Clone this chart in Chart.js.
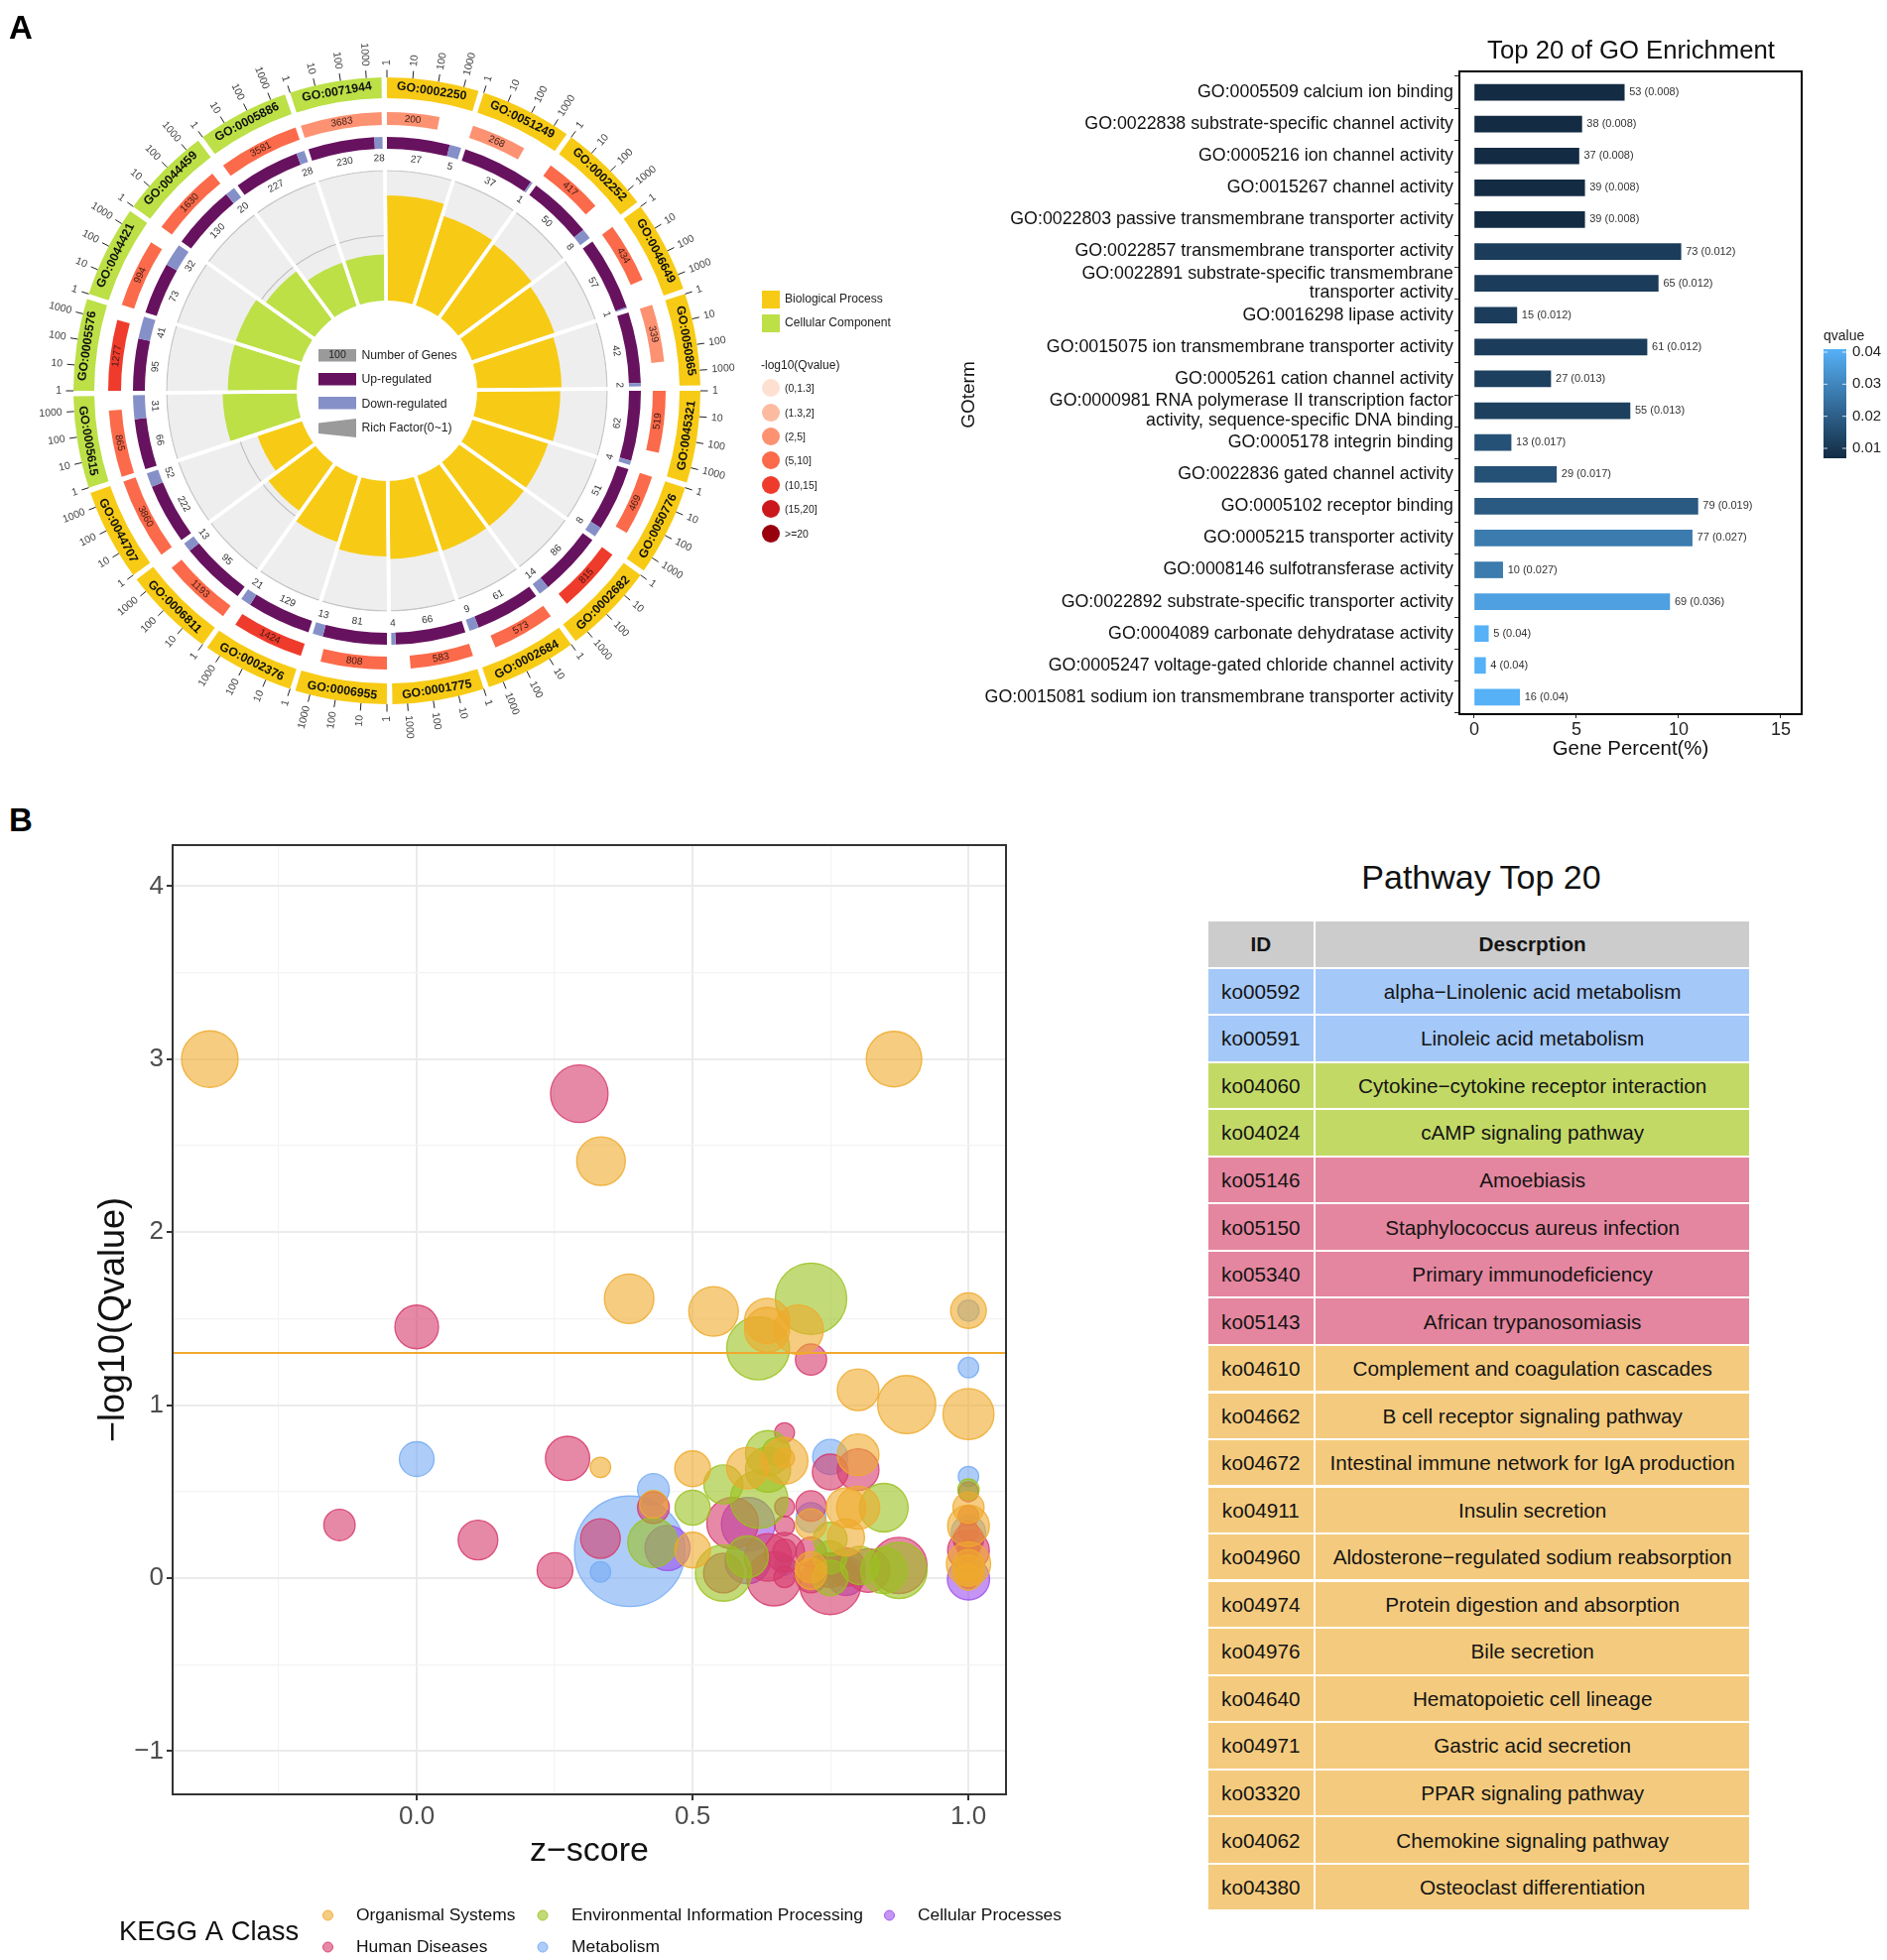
<!DOCTYPE html>
<html><head><meta charset="utf-8">
<script src="https://cdn.jsdelivr.net/npm/chart.js@4/dist/chart.umd.min.js"></script>
<style>
html,body{margin:0;padding:0;background:#fff;}
#page{position:relative;width:1902px;height:1976px;overflow:hidden;font-family:"Liberation Sans",Arial,sans-serif;color:#111;}
canvas{position:absolute;}
.t{position:absolute;white-space:nowrap;line-height:1;}
.cell{position:absolute;display:flex;align-items:center;justify-content:center;font-size:20.7px;color:#141414;box-sizing:border-box;padding-top:1px;}
</style></head>
<body><div id="page">
<canvas id="polarBack" width="460" height="460" style="left:160px;top:164px"></canvas>
<canvas id="polarFront" width="460" height="460" style="left:160px;top:164px"></canvas>
<canvas id="ring" width="780" height="788" style="left:0;top:0"></canvas>
<canvas id="bars" width="942" height="750" style="left:960px;top:30px"></canvas>
<canvas id="bubble" width="1060" height="1181" style="left:60px;top:795px"></canvas>
</div>
<script>
// ---------- Panel A, circular GO plot (clockwise from 12 o'clock) ----------
const goIds = ["GO:0002250","GO:0051249","GO:0002252","GO:0046649","GO:0050865","GO:0045321","GO:0050776","GO:0002682","GO:0002684","GO:0001775","GO:0006955","GO:0002376","GO:0006811","GO:0044707","GO:0005615","GO:0005576","GO:0044421","GO:0044459","GO:0005886","GO:0071944"];
const goClass = ["BP","BP","BP","BP","BP","BP","BP","BP","BP","BP","BP","BP","BP","BP","CC","CC","CC","CC","CC","CC"];
const goCounts = [200,268,417,434,339,519,469,815,573,583,808,1424,1193,3860,865,1277,994,1630,3581,3683];
const goQBin = [2,2,3,3,2,3,3,4,3,3,3,4,3,3,3,4,3,3,3,2];
const goUp = [27,37,50,57,42,62,51,86,61,66,81,129,95,222,66,95,73,130,227,230];
const goDown = [5,1,8,1,2,4,8,14,9,4,13,21,13,52,31,41,32,20,28,28];
const richFactor = [0.81,0.72,0.70,0.67,0.65,0.64,0.61,0.61,0.61,0.60,0.58,0.53,0.45,0.36,0.57,0.53,0.53,0.46,0.35,0.355];
const countTicks = [1,10,100,1000];
const qLegend = ["(0,1.3]","(1.3,2]","(2,5]","(5,10]","(10,15]","(15,20]",">=20"];
const qColors = ["#FEE0D2","#FCBBA1","#FC9272","#FB6A4A","#EF3B2C","#CB181D","#99000D"];
const classColors = {BP:"#F7CB15",CC:"#BCE046"};

// ---------- Panel A, bar chart ----------
const barLabels = ["GO:0005509 calcium ion binding","GO:0022838 substrate-specific channel activity","GO:0005216 ion channel activity","GO:0015267 channel activity","GO:0022803 passive transmembrane transporter activity","GO:0022857 transmembrane transporter activity",["GO:0022891 substrate-specific transmembrane","transporter activity"],"GO:0016298 lipase activity","GO:0015075 ion transmembrane transporter activity","GO:0005261 cation channel activity",["GO:0000981 RNA polymerase II transcription factor","activity, sequence-specific DNA binding"],"GO:0005178 integrin binding","GO:0022836 gated channel activity","GO:0005102 receptor binding","GO:0005215 transporter activity","GO:0008146 sulfotransferase activity","GO:0022892 substrate-specific transporter activity","GO:0004089 carbonate dehydratase activity","GO:0005247 voltage-gated chloride channel activity","GO:0015081 sodium ion transmembrane transporter activity"];
const genePercent = [7.34,5.26,5.12,5.40,5.40,10.11,9.00,2.08,8.45,3.74,7.62,1.80,4.02,10.94,10.66,1.39,9.56,0.69,0.55,2.22];
const geneCount = [53,38,37,39,39,73,65,15,61,27,55,13,29,79,77,10,69,5,4,16];
const qValue = ["0.008","0.008","0.008","0.008","0.008","0.012","0.012","0.012","0.012","0.013","0.013","0.017","0.017","0.019","0.027","0.027","0.036","0.04","0.04","0.04"];
const percentTicks = [0,5,10,15];
const qBarTicks = [0.01,0.02,0.03,0.04];

// ---------- Panel B, bubble chart: [z-score, -log10(Qvalue), size] ----------
const organismal = [[-0.375,3.0,28.5],[0.865,3.0,28],[0.334,2.41,24.5],[0.385,1.615,25],[0.538,1.542,25],[0.635,1.487,22.7],[0.635,1.435,22.7],[0.692,1.435,25],[1,1.546,18],[0.80,1.088,21],[0.888,1.003,29.3],[1,0.948,25.7],[0.333,0.64,10.3],[0.5,0.632,18],[0.5,0.162,18],[0.5995,0.636,21],[0.6667,0.678,23.5],[0.6667,0.694,10],[0.80,0.713,21],[0.778,0.407,20],[0.80,0.407,21.7],[0.778,0.235,18.7],[0.7146,0.311,15.7],[0.7146,0.063,15.7],[0.7146,0.025,15.7],[0.429,0.426,14],[1,0.407,15.7],[1,0.302,21],[1,0.082,22.3],[1,0.073,16],[1,0.044,15.7],[1,0.006,13.3]];
const environmental = [[0.7146,1.615,36],[0.6187,1.328,31.7],[0.4275,0.205,25],[0.5,0.407,17.7],[0.5558,0.541,19.7],[0.6367,0.7225,22.7],[0.6367,0.627,22.7],[0.652,0.732,14],[0.8466,0.407,24.5],[0.6205,0.4547,29],[0.7494,0.225,17],[0.7494,0.12,16.7],[0.5558,0.029,28.3],[0.5995,0.124,21],[0.7494,0.001,18],[0.803,0.073,19.3],[0.8466,0.044,23.3],[0.874,0.044,28.3],[1,0.512,10.7]];
const humanDiseases = [[0.2946,2.80,29],[0,1.452,22],[0.7146,1.263,15.7],[0.2734,0.692,22.3],[-0.14,0.307,15.8],[0.111,0.22,20],[0.2506,0.044,18],[0.333,0.229,20],[0.429,0.407,16],[0.6667,0.841,10],[0.7494,0.6135,18],[0.80,0.627,21],[0.5725,0.317,26],[0.6667,0.411,10],[0.6667,0.302,10],[0.7146,0.417,15.3],[0.5558,0.029,20],[0.6367,0.12,24],[0.6475,-0.004,27.3],[0.6667,0.159,11.7],[0.6667,0.15,20],[0.6667,0.006,10.7],[0.7146,0.149,15.3],[0.7146,0.005,15.7],[0.7494,-0.033,31],[0.7494,0.044,17.3],[0.778,0.063,19.3],[0.818,0.044,22],[0.874,0.073,28.3],[1,0.499,10],[1,0.36,10.3],[1,0.273,10.3],[1,0.159,21],[1,0.225,15.3],[1,0.159,10.7],[1,-0.002,10.3]];
const metabolism = [[0,0.688,17.5],[1,1.546,10.7],[1,1.217,10.3],[0.333,0.036,10.3],[0.386,0.155,55.7],[0.429,0.512,16],[0.7494,0.70,17.7],[0.7146,0.35,15],[0.6667,0.073,10],[1,0.587,10.3],[1,0.264,17.3]];
const cellular = [[0.4545,0.174,22.7],[0.6007,0.311,27],[0.5995,0.0975,22.7],[0.778,0.01,19.3],[1,-0.004,21.3]];
const zTicks = [-0.25,0,0.25,0.5,0.75,1];
const zMajor = [0,0.5,1];
const logQTicks = [-1,-0.5,0,0.5,1,1.5,2,2.5,3,3.5,4];
const logQMajor = [-1,0,1,2,3,4];
const threshold = [1.301,1.301];

// ---------- Panel B, table ----------
const pathIds = ["ko00592","ko00591","ko04060","ko04024","ko05146","ko05150","ko05340","ko05143","ko04610","ko04662","ko04672","ko04911","ko04960","ko04974","ko04976","ko04640","ko04971","ko03320","ko04062","ko04380"];
const pathNames = ["alpha−Linolenic acid metabolism","Linoleic acid metabolism","Cytokine−cytokine receptor interaction","cAMP signaling pathway","Amoebiasis","Staphylococcus aureus infection","Primary immunodeficiency","African trypanosomiasis","Complement and coagulation cascades","B cell receptor signaling pathway","Intestinal immune network for IgA production","Insulin secretion","Aldosterone−regulated sodium reabsorption","Protein digestion and absorption","Bile secretion","Hematopoietic cell lineage","Gastric acid secretion","PPAR signaling pathway","Chemokine signaling pathway","Osteoclast differentiation"];
const pathClass = ["met","met","env","env","hum","hum","hum","hum","org","org","org","org","org","org","org","org","org","org","org","org"];
const tableColors = {met:"#A4C8F8",env:"#C3D966",hum:"#E4869F",org:"#F4CB7E"};

// ---------- helpers ----------
Chart.defaults.font.family = '"Liberation Sans",Arial,sans-serif';
Chart.defaults.animation = false;
Chart.defaults.responsive = false;
Chart.defaults.devicePixelRatio = 1;
Chart.defaults.plugins.legend.display = false;
Chart.defaults.plugins.tooltip.enabled = false;
const page = document.getElementById('page');
function addText(str,x,y,size,opts={}){
  const d=document.createElement('div');d.className='t';d.textContent=str;
  d.style.fontSize=size+'px';d.style.left=x+'px';d.style.top=(y-size/2)+'px';
  if(opts.center){d.style.transform='translateX(-50%)';}
  if(opts.bold)d.style.fontWeight='bold';
  if(opts.color)d.style.color=opts.color;
  page.appendChild(d);return d;
}
function addBox(x,y,w,h,color,round){
  const d=document.createElement('div');
  d.style.cssText=`position:absolute;left:${x}px;top:${y}px;width:${w}px;height:${h}px;background:${color};${round?'border-radius:50%;':''}`;
  page.appendChild(d);
}

// ---------- circular plot ----------
const STEP=18,SPAN=17,maxLog=Math.log10(Math.max(...goCounts));
const countSpan=n=>SPAN*Math.log10(n)/maxLog;
const cx=390,cy=394;
const ringLabels={id:'ringLabels',afterDraw(chart){
  const c=chart.ctx;
  const put=(deg,r,str,font,color)=>{
    const a=deg*Math.PI/180;
    c.save();c.translate(cx+r*Math.sin(a),cy-r*Math.cos(a));
    const nd=((deg%360)+360)%360;
    c.rotate(nd>90&&nd<270?a+Math.PI:a);
    c.font=font;c.fillStyle=color;c.textAlign='center';c.textBaseline='middle';
    c.fillText(str,0,0);c.restore();
  };
  goIds.forEach((id,i)=>{
    const s=i*STEP;
    put(s+SPAN/2,305.5,id,'bold 12.3px "Liberation Sans"','#111');
    put(s+countSpan(goCounts[i])/2,274.5,String(goCounts[i]),'10px "Liberation Sans"','#3a1a14');
    const upDeg=SPAN*goUp[i]/(goUp[i]+goDown[i]);
    put(s+upDeg/2,234.5,String(goUp[i]),'10px "Liberation Sans"','#333');
    put(s+upDeg+(SPAN-upDeg)/2,234.5,String(goDown[i]),'10px "Liberation Sans"','#333');
    countTicks.forEach(v=>{
      const d=s+SPAN*Math.log10(v)/maxLog,a=d*Math.PI/180,sn=Math.sin(a),cs=Math.cos(a);
      c.strokeStyle='#222';c.lineWidth=1;c.beginPath();
      c.moveTo(cx+316*sn,cy-316*cs);c.lineTo(cx+323.5*sn,cy-323.5*cs);c.stroke();
      c.save();c.translate(cx+328*sn,cy-328*cs);
      const right=(d%360)<180;
      c.rotate(right?a-Math.PI/2:a+Math.PI/2);
      c.font='10.5px "Liberation Sans"';c.fillStyle='#444';c.textBaseline='middle';
      c.textAlign=right?'left':'right';c.fillText(String(v),0,0);c.restore();
    });
  });
}};
new Chart(document.getElementById('ring'),{type:'doughnut',
  data:{datasets:[
    {data:goIds.flatMap(()=>[SPAN,STEP-SPAN]),backgroundColor:goClass.flatMap(k=>[classColors[k],'transparent']),weight:21,borderWidth:0},
    {data:[1],backgroundColor:'transparent',weight:14,borderWidth:0},
    {data:goCounts.flatMap(n=>[countSpan(n),STEP-countSpan(n)]),backgroundColor:goQBin.flatMap(b=>[qColors[b],'transparent']),weight:13,borderWidth:0},
    {data:[1],backgroundColor:'transparent',weight:12,borderWidth:0},
    {data:goUp.flatMap((u,i)=>{const t=u+goDown[i];return [SPAN*u/t,SPAN*goDown[i]/t,STEP-SPAN];}),backgroundColor:goUp.flatMap(()=>['#67125F','#8690C8','transparent']),weight:12,borderWidth:0}
  ]},
  options:{radius:316,cutout:'77.22%',rotation:0,layout:{padding:0}},
  plugins:[ringLabels]});

const rScale=(grid)=>({r:{min:-0.695,max:1,startAngle:-0.5,
  afterBuildTicks(s){s.ticks=[{value:0.5},{value:1}];},
  ticks:{display:false},angleLines:{display:false},pointLabels:{display:false},
  grid:{display:grid,circular:true,color:'#CBCBCB',lineWidth:1.2}}});
new Chart(document.getElementById('polarBack'),{type:'polarArea',
  data:{labels:goIds,datasets:[{data:goIds.map(()=>1),backgroundColor:'rgba(0,0,0,0.065)',borderWidth:0}]},
  options:{layout:{padding:8},scales:rScale(true)}});
const centerLegend={id:'centerLegend',afterDatasetsDraw(chart){
  const c=chart.ctx,s=chart.scales.r;
  c.save();
  c.fillStyle='#fff';c.beginPath();c.arc(s.xCenter,s.yCenter,91,0,Math.PI*2);c.fill();
  c.translate(-160,-164);
  c.fillStyle='#9A9A9A';c.fillRect(321,352,38,12.5);
  c.fillStyle='#67125F';c.fillRect(321,376,38,12.5);
  c.fillStyle='#8690C8';c.fillRect(321,400,38,12.5);
  c.fillStyle='#9A9A9A';c.beginPath();c.moveTo(321,426.5);c.lineTo(359,422);c.lineTo(359,441);c.lineTo(321,437);c.closePath();c.fill();
  c.font='10.5px "Liberation Sans"';c.fillStyle='#222';c.textAlign='center';c.textBaseline='middle';c.fillText('100',340,358.5);
  c.font='12.2px "Liberation Sans"';c.textAlign='left';
  [['Number of Genes',359],['Up-regulated',383],['Down-regulated',408],['Rich Factor(0~1)',432]].forEach(([t,y])=>c.fillText(t,364.5,y));
  c.restore();
}};
new Chart(document.getElementById('polarFront'),{type:'polarArea',
  data:{labels:goIds,datasets:[
    {data:goIds.map(()=>1.02),backgroundColor:'transparent',borderColor:'#fff',borderWidth:3.5},
    {data:richFactor,backgroundColor:goClass.map(k=>classColors[k]),borderWidth:0}
  ]},
  options:{layout:{padding:8},scales:rScale(false)},
  plugins:[centerLegend]});

// right legend of the circular plot
[["Biological Process","BP",301.5],["Cellular Component","CC",325.5]].forEach(([t,k,y])=>{
  addBox(768,y-9,18,18,classColors[k]);addText(t,791,y,12.1,{color:'#222'});
});
addText("-log10(Qvalue)",767,368,12,{color:'#222'});
[391,416,440,464,489,513,538].forEach((y,i)=>{
  addBox(768,y-9,18,18,qColors[i],true);addText(qLegend[i],791,y,10.5,{color:'#222'});
});
addText("A",9,27,33,{bold:true,color:'#000'});
addText("B",9,826,33,{bold:true,color:'#000'});

// ---------- bar chart ----------
function qColor(q){const t=(q-0.008)/0.032;const a=[19,43,67],b=[86,177,247];
  return `rgb(${a.map((v,i)=>Math.round(v+(b[i]-v)*t)).join(',')})`;}
const barDecor={id:'barDecor',
  afterDatasetsDraw(chart){
    const c=chart.ctx,m=chart.getDatasetMeta(0);
    c.save();c.font='11px "Liberation Sans"';c.fillStyle='#333';c.textAlign='left';c.textBaseline='middle';
    m.data.forEach((el,i)=>c.fillText(`${geneCount[i]} (${qValue[i]})`,el.x+5,el.y));
    c.restore();
  },
  afterDraw(chart){
    const c=chart.ctx;
    c.save();
    c.strokeStyle='#000';c.lineWidth=2;c.strokeRect(511,42,345,648);
    c.font='25.7px "Liberation Sans"';c.fillStyle='#111';c.textAlign='center';c.textBaseline='middle';
    c.fillText('Top 20 of GO Enrichment',684,22);
    // colour bar
    const yOf=q=>422-(q-0.01)*3233;
    const x0=878,x1=901,yTop=322,yBot=432;
    const g=c.createLinearGradient(0,yBot,0,yTop);g.addColorStop(0,qColor(0.008));g.addColorStop(1,qColor(0.04));
    c.fillStyle=g;c.fillRect(x0,yTop,x1-x0,yBot-yTop);
    c.font='14px "Liberation Sans"';c.fillStyle='#222';c.textAlign='left';c.fillText('qvalue',x0,309);
    c.font='15px "Liberation Sans"';
    qBarTicks.forEach(q=>{
      const y=yOf(q);
      c.strokeStyle='rgba(255,255,255,.8)';c.lineWidth=1;
      c.beginPath();c.moveTo(x0,y);c.lineTo(x0+4,y);c.moveTo(x1-4,y);c.lineTo(x1,y);c.stroke();
      c.fillStyle='#222';c.fillText(q.toFixed(2),907,y);
    });
    c.restore();
  }};
new Chart(document.getElementById('bars'),{type:'bar',
  data:{labels:barLabels,datasets:[{data:genePercent,backgroundColor:qValue.map(q=>qColor(parseFloat(q))),barThickness:16,borderSkipped:false}]},
  options:{indexAxis:'y',layout:{padding:{top:47,right:86,left:0,bottom:0}},
    scales:{
      x:{type:'linear',min:-0.728,max:16.02,
        afterBuildTicks(s){s.ticks=percentTicks.map(v=>({value:v}));},
        afterFit(s){s.height=61;},
        grid:{display:true,drawOnChartArea:false,drawTicks:true,tickLength:5,tickColor:'#222',lineWidth:1},
        border:{display:false},
        ticks:{font:{size:18},color:'#222',padding:1,maxRotation:0,autoSkip:false},
        title:{display:true,text:'Gene Percent(%)',font:{size:20.4},color:'#111',padding:{top:0,bottom:12.7}}},
      y:{type:'category',
        afterFit(s){s.width=511;},
        grid:{display:true,drawOnChartArea:false,drawTicks:true,tickLength:5,tickColor:'#222',lineWidth:1},
        border:{display:false},
        ticks:{font:{size:17.8,lineHeight:1.08},color:'#111',padding:1,autoSkip:false,z:1},
        title:{display:true,text:'GOterm',font:{size:19},color:'#111',padding:{top:5.6,bottom:0}}}
    }},
  plugins:[barDecor]});

// ---------- bubble chart ----------
const bubbleClasses=[
  {name:'Organismal Systems',data:organismal,rgb:'238,170,44',col:0,row:0},
  {name:'Environmental Information Processing',data:environmental,rgb:'155,194,31',col:1,row:0},
  {name:'Human Diseases',data:humanDiseases,rgb:'214,58,108',col:0,row:1},
  {name:'Cellular Processes',data:cellular,rgb:'157,78,236',col:2,row:0},
  {name:'Metabolism',data:metabolism,rgb:'118,171,243',col:1,row:1}];
const legendCols=[[330.5,359],[547,576],[896.5,925]],legendRows=[1931,1963];
const zMin=-0.4424,zMax=1.068;
const bubbleDecor={id:'bubbleDecor',afterDraw(chart){
  const c=chart.ctx,a=chart.chartArea;
  c.save();
  c.strokeStyle='#333';c.lineWidth=2;c.strokeRect(a.left,a.top,a.right-a.left,a.bottom-a.top);
  c.translate(-60,-795);
  c.font='27.4px "Liberation Sans"';c.fillStyle='#111';c.textAlign='left';c.textBaseline='middle';
  c.fillText('KEGG A Class',120,1948);
  c.font='17.4px "Liberation Sans"';
  bubbleClasses.forEach(k=>{
    const [mx,tx]=legendCols[k.col],y=legendRows[k.row];
    c.beginPath();c.arc(mx,y,5,0,Math.PI*2);c.fillStyle=`rgba(${k.rgb},.6)`;c.fill();
    c.strokeStyle=`rgba(${k.rgb},.9)`;c.lineWidth=1;c.stroke();
    c.fillStyle='#111';c.fillText(k.name,tx,y);
  });
  c.restore();
}};
new Chart(document.getElementById('bubble'),{type:'bubble',
  data:{datasets:[
    {type:'line',data:[{x:zMin,y:threshold[0]},{x:zMax,y:threshold[1]}],borderColor:'#F0A92E',borderWidth:2,pointRadius:0,order:0},
    ...bubbleClasses.map((k,i)=>({label:k.name,order:i+1,
      data:k.data.map(([x,y,s])=>({x,y,r:s})),
      backgroundColor:`rgba(${k.rgb},.6)`,borderColor:`rgba(${k.rgb},.85)`,borderWidth:1.3}))
  ]},
  options:{layout:{padding:{left:0,right:106,top:10,bottom:0}},
    scales:{
      x:{type:'linear',min:zMin,max:zMax,
        afterBuildTicks(s){s.ticks=zTicks.map(v=>({value:v}));},
        afterFit(s){s.height=167;},
        grid:{color:c=>zMajor.includes(c.tick.value)?'#EBEBEB':'#F3F3F3',lineWidth:c=>zMajor.includes(c.tick.value)?2:1.2,
          tickColor:c=>zMajor.includes(c.tick.value)?'#333':'transparent',tickLength:6},
        border:{display:false},
        ticks:{font:{size:26},color:'#4D4D4D',padding:1,autoSkip:false,maxRotation:0,
          callback:v=>zMajor.includes(v)?Number(v).toFixed(1):''},
        title:{display:true,text:'z−score',font:{size:34},color:'#111',padding:{top:0,bottom:88.6}}},
      y:{type:'linear',min:-1.25,max:4.237,
        afterBuildTicks(s){s.ticks=logQTicks.map(v=>({value:v}));},
        afterFit(s){s.width=114;},
        grid:{color:c=>logQMajor.includes(c.tick.value)?'#EBEBEB':'#F3F3F3',lineWidth:c=>logQMajor.includes(c.tick.value)?2:1.2,
          tickColor:c=>logQMajor.includes(c.tick.value)?'#333':'transparent',tickLength:6},
        border:{display:false},
        ticks:{font:{size:26},color:'#4D4D4D',padding:3,autoSkip:false,
          callback:v=>logQMajor.includes(v)?String(v).replace('-','−'):''},
        title:{display:true,text:'−log10(Qvalue)',font:{size:36},color:'#111',padding:{top:33.4,bottom:0}}}
    }},
  plugins:[bubbleDecor]});

// ---------- table ----------
addText("Pathway Top 20",1493,884,34,{center:true,color:'#111'});
function cell(x,y,w,h,bg,txt,bold){
  const d=document.createElement('div');d.className='cell';
  d.style.cssText=`left:${x}px;top:${y}px;width:${w}px;height:${h}px;background:${bg};${bold?'font-weight:bold;':''}`;
  d.textContent=txt;page.appendChild(d);
}
cell(1217.5,929.3,106.5,45.4,'#CCCCCC','ID',true);
cell(1325.8,929.3,437.7,45.4,'#CCCCCC','Descrption',true);
pathIds.forEach((id,i)=>{
  const y=976.7+i*47.54,bg=tableColors[pathClass[i]];
  cell(1217.5,y,106.5,45.3,bg,id);
  cell(1325.8,y,437.7,45.3,bg,pathNames[i]);
});
</script>
</body></html>
